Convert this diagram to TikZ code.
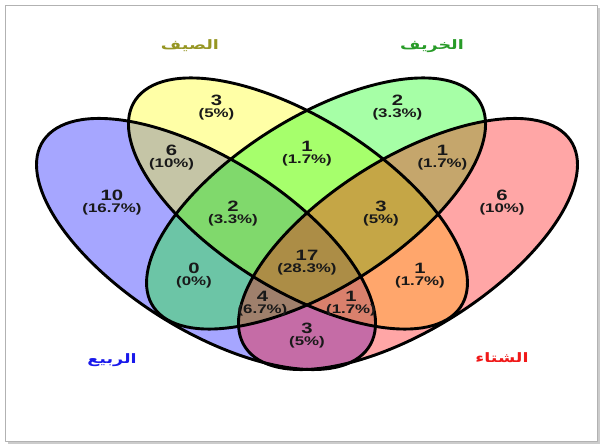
\documentclass[tikz,border=0pt]{standalone}
\usepackage{fontspec}
\setmainfont{Liberation Sans}
\newfontfamily\arabicfont[Script=Arabic]{DejaVu Sans}
\TeXXeTstate=1
\definecolor{springfill}{RGB}{0,0,255}
\definecolor{summerfill}{RGB}{255,255,0}
\definecolor{autumnfill}{RGB}{0,255,0}
\definecolor{winterfill}{RGB}{255,0,0}
\definecolor{springtext}{RGB}{25,25,235}
\definecolor{summertext}{RGB}{150,150,35}
\definecolor{autumntext}{RGB}{40,155,40}
\definecolor{wintertext}{RGB}{240,25,25}
\tikzstyle{every path}=[line cap=round,line join=round]
\tikzset{
  setfill/.style={fill=#1,fill opacity=0.35,draw=none},
  setline/.style={draw=black,line width=2.9pt},
  cnt/.style={align=center,text=black!90,transform shape,inner sep=0pt,font=\fontsize{15}{12}\selectfont\bfseries},
  seasonlabel/.style={transform shape,inner sep=0pt,font=\fontsize{13}{13}\selectfont\arabicfont\bfseries,text=#1}
}
\newcommand\pct[1]{{\fontsize{12.5}{12}\selectfont(#1\%)}}

\begin{document}
\begin{tikzpicture}[x=1pt,y=1pt]
%Frame of the figure
	\useasboundingbox (0,0) rectangle (604,447);
	\fill[gray!40] (7.5,3.5) rectangle (599.5,439); %% shadow on the right and the bottom
	\draw[gray!60,line width=1pt,fill=white] (5,6) rectangle (597,441);
%Venn diagram, stretched sideways
	\begin{scope}[shift={(307,0)},xscale=1.35]
	\newcommand\Along{160.3} %half of the long axis
	\newcommand\Bshort{76.3} %half of the short axis
	%FILLS
	\fill[setfill=springfill,shift={(-74.8,203)},rotate=-45] (0,0) ellipse ({\Along} and {\Bshort});
	\fill[setfill=summerfill,shift={(-6.7,243.5)},rotate=-45] (0,0) ellipse ({\Along} and {\Bshort});
	\fill[setfill=autumnfill,shift={(6.7,243.5)},rotate=45] (0,0) ellipse ({\Along} and {\Bshort});
	\fill[setfill=winterfill,shift={(74.8,203)},rotate=45] (0,0) ellipse ({\Along} and {\Bshort});
	%OUTLINES
	\draw[setline,shift={(-74.8,203)},rotate=-45] (0,0) ellipse ({\Along} and {\Bshort}); %% spring
	\draw[setline,shift={(-6.7,243.5)},rotate=-45] (0,0) ellipse ({\Along} and {\Bshort}); %% summer
	\draw[setline,shift={(6.7,243.5)},rotate=45] (0,0) ellipse ({\Along} and {\Bshort}); %% autumn
	\draw[setline,shift={(74.8,203)},rotate=45] (0,0) ellipse ({\Along} and {\Bshort}); %% winter
	%Counts
	\node[cnt] (nSpring) at (-144.5,244) {10\\\pct{16.7}};
	\node[cnt] (nSummer) at (-67,339.5) {3\\\pct{5}};
	\node[cnt] (nAutumn) at (67,339.5) {2\\\pct{3.3}};
	\node[cnt] (nWinter) at (144.5,244) {6\\\pct{10}};
	\node[cnt] (nSpSu) at (-100.3,289.3) {6\\\pct{10}};
	\node[cnt] (nSuAu) at (0,293) {1\\\pct{1.7}};
	\node[cnt] (nAuWi) at (100.3,289.3) {1\\\pct{1.7}};
	\node[cnt] (nSpSuAu) at (-54.8,233.5) {2\\\pct{3.3}};
	\node[cnt] (nSuAuWi) at (54.8,233.5) {3\\\pct{5}};
	\node[cnt] (nSpAu) at (-83.7,171.6) {0\\\pct{0}};
	\node[cnt] (nSuWi) at (83.7,171.6) {1\\\pct{1.7}};
	\node[cnt] (nAll) at (0,184) {17\\\pct{28.3}};
	\node[cnt] (nSpAuWi) at (-33,143.3) {4\\\pct{6.7}};
	\node[cnt] (nSpSuWi) at (32.6,143.3) {1\\\pct{1.7}};
	\node[cnt] (nSpWi) at (0,111.5) {3\\\pct{5}};
	%Season names
	\node[seasonlabel=summertext] (lSummer) at (-86.7,401) {\beginR الصيف\endR};
	\node[seasonlabel=autumntext] (lAutumn) at (92.6,400.5) {\beginR الخريف\endR};
	\node[seasonlabel=springtext] (lSpring) at (-144.4,87) {\beginR الربيع\endR};
	\node[seasonlabel=wintertext] (lWinter) at (144.4,89) {\beginR الشتاء\endR};
	\end{scope}
\end{tikzpicture}
\end{document}
